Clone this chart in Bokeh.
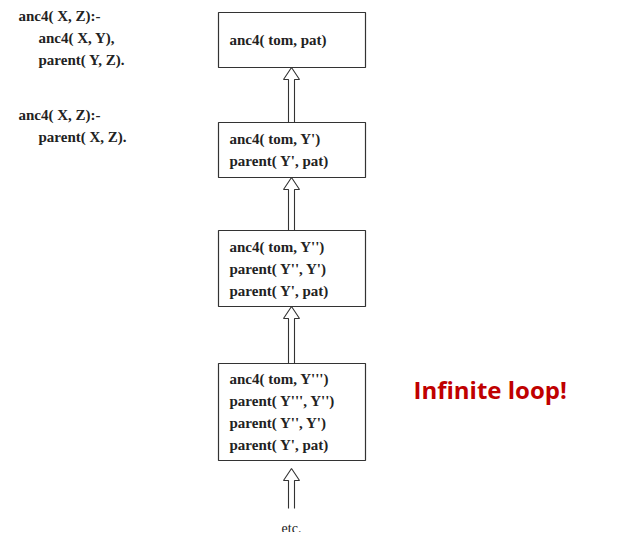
from bokeh.plotting import figure
from bokeh.models import ColumnDataSource, Range1d
from bokeh.core.properties import value
from bokeh.embed import file_html
from bokeh.resources import INLINE

rule_lines = ["anc4( X, Z):-", "anc4( X, Y),", "parent( Y, Z).", "anc4( X, Z):-", "parent( X, Z)."]
rule_x = [18, 38, 38, 18, 38]
rule_y = [15, 37, 59, 114, 136]

box_lines = [
    ["anc4( tom, pat)"],
    ["anc4( tom, Y')", "parent( Y', pat)"],
    ["anc4( tom, Y'')", "parent( Y'', Y')", "parent( Y', pat)"],
    ["anc4( tom, Y''')", "parent( Y''', Y'')", "parent( Y'', Y')", "parent( Y', pat)"],
]
box_top = [12, 122, 230, 363]
box_bot = [67, 177, 306, 460]
BX0, BX1 = 218, 365

p = figure(width=610, height=532, output_backend="svg", toolbar_location=None,
           x_range=Range1d(0, 610), y_range=Range1d(532, 0), min_border=0)
p.axis.visible = False
p.grid.visible = False
p.outline_line_color = None
p.background_fill_color = "white"

serif = value("Liberation Serif")
p.text(x=rule_x, y=rule_y, text=rule_lines, text_font=serif, text_font_size="15px",
       text_font_style="bold", text_baseline="middle", text_color="#222222")

for top, bot in zip(box_top, box_bot):
    p.quad(left=BX0, right=BX1, top=top, bottom=bot, fill_color=None, line_color="#333333", line_width=1.2)

tx, ty, tt = [], [], []
for top, bot, lines in zip(box_top, box_bot, box_lines):
    n = len(lines)
    step = 22
    start = (top + bot) / 2 - step * (n - 1) / 2
    for i, l in enumerate(lines):
        tx.append(229); ty.append(start + i * step); tt.append(l)
p.text(x=tx, y=ty, text=tt, text_font=serif, text_font_size="15px",
       text_font_style="bold", text_baseline="middle", text_color="#222222")

def arrow(bottom, tip, cx=291):
    base = tip + 12
    xs = [cx - 3, cx - 3, cx - 8, cx, cx + 8, cx + 3, cx + 3]
    ys = [bottom, base, base, tip, base, base, bottom]
    p.line(xs, ys, line_color="#333333", line_width=1.1)

for i in range(3):
    arrow(box_top[i + 1], box_bot[i])
arrow(508, box_bot[3] + 8)

p.text(x=[291], y=[528], text=["etc."], text_font=serif, text_font_size="14px",
       text_align="center", text_baseline="middle", text_color="#222222")

p.text(x=[413], y=[389], text=["Infinite loop!"], text_font=value("Open Sans"),
       text_font_size="24px", text_font_style="bold", text_baseline="middle", text_color="#c00000")

open("out.html", "w").write(file_html(p, INLINE))
